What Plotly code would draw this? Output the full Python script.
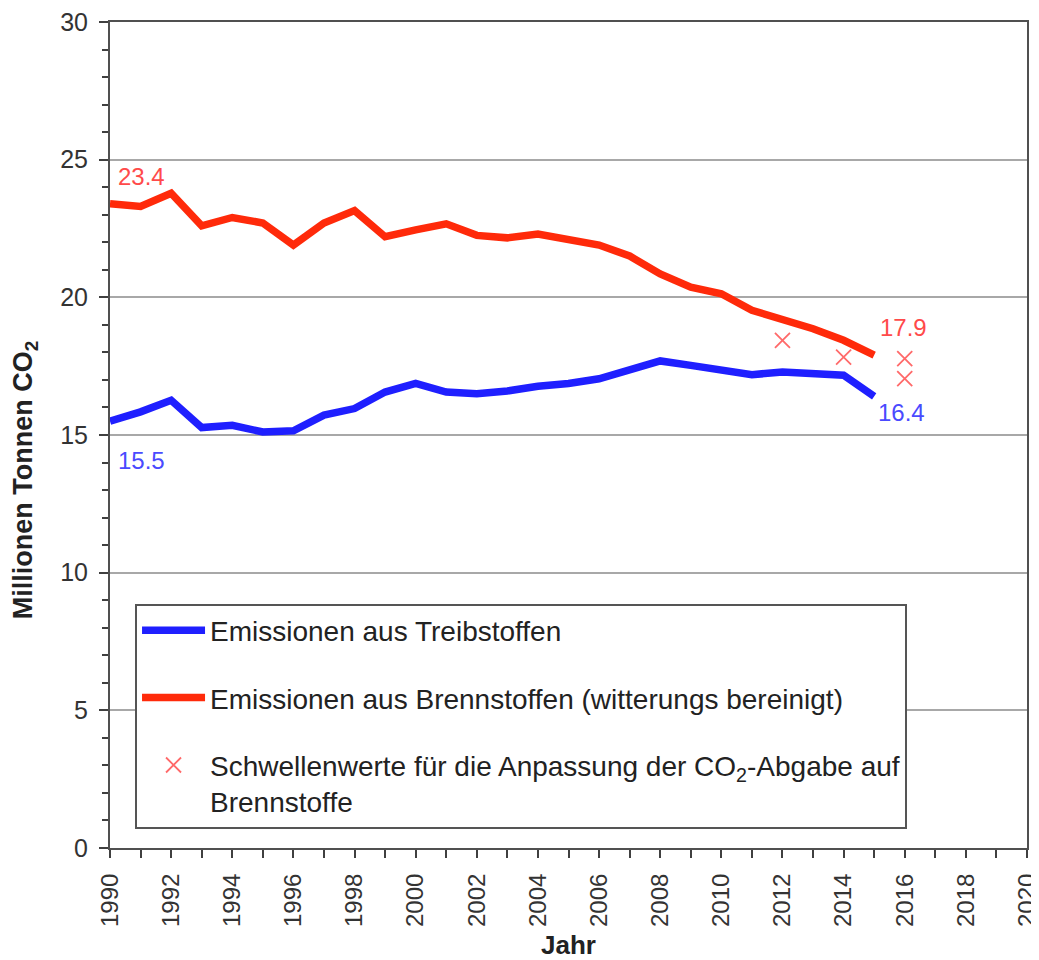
import plotly.graph_objects as go

years = list(range(1990, 2016))
treibstoffe = [15.5, 15.84, 16.26, 15.27, 15.35, 15.11, 15.15, 15.72, 15.96, 16.56,
               16.87, 16.56, 16.5, 16.6, 16.77, 16.87, 17.04, 17.37, 17.69, 17.53,
               17.37, 17.19, 17.29, 17.23, 17.17, 16.4]
brennstoffe = [23.4, 23.3, 23.78, 22.6, 22.9, 22.7, 21.9, 22.7, 23.15, 22.2,
               22.45, 22.67, 22.25, 22.16, 22.3, 22.07, 21.9, 21.5, 20.85, 20.37,
               20.13, 19.53, 19.22, 18.86, 18.44, 17.9]
schwelle_years = [2012, 2014, 2016, 2016]
schwelle_values = [18.44, 17.83, 17.77, 17.05]

FONT = "Liberation Sans, Arial, sans-serif"
BLUE = "#1f1fff"
RED = "#ff2a0a"

fig = go.Figure()
fig.add_trace(go.Scatter(
    x=years, y=treibstoffe, mode="lines", name="Emissionen aus Treibstoffen",
    line=dict(color=BLUE, width=7.5), legendgroup="a",
))
fig.add_trace(go.Scatter(
    x=years, y=brennstoffe, mode="lines",
    name="Emissionen aus Brennstoffen (witterungs bereinigt)",
    line=dict(color=RED, width=7.5), legendgroup="b",
))
fig.add_trace(go.Scatter(
    x=schwelle_years, y=schwelle_values, mode="markers",
    name="Schwellenwerte für die Anpassung der CO<sub>2</sub>-Abgabe auf<br>Brennstoffe",
    marker=dict(symbol="x-thin", size=15, line=dict(color="#ff6a6a", width=1.8)),
    legendgroup="c",
))

# end-point value labels, anchored at the data points
label_specs = [
    (years[0], brennstoffe[0], "#ff4a4a", 6, 27),
    (years[-1], brennstoffe[-1], "#ff4a4a", 4, 28),
    (years[0], treibstoffe[0], "#4a4aff", 6, -39),
    (years[-1], treibstoffe[-1], "#4a4aff", 2, -16),
]
for xv, yv, col, xs, ys in label_specs:
    fig.add_annotation(
        x=xv, y=yv, xref="x", yref="y", text=f"{yv:.1f}", showarrow=False,
        xanchor="left", yanchor="middle", xshift=xs, yshift=ys,
        font=dict(family=FONT, size=24, color=col),
    )

# y-axis title
fig.add_annotation(
    x=-0.0925, y=0.4455, xref="paper", yref="paper",
    text="<b>Millionen Tonnen CO<sub>2</sub></b>", showarrow=False, textangle=-90,
    xanchor="center", yanchor="middle",
    font=dict(family=FONT, size=27, color="#222222"),
)

fig.update_layout(
    width=1039, height=960,
    margin=dict(l=102, r=20, t=14, b=120),
    plot_bgcolor="white", paper_bgcolor="white",
    font=dict(family=FONT, color="#333333"),
    showlegend=True,
    legend=dict(
        x=0.0273, y=0.296, xanchor="left", yanchor="top",
        bgcolor="white", bordercolor="#555555", borderwidth=2,
        font=dict(family=FONT, size=28, color="#222222"),
        tracegroupgap=28, itemwidth=63, valign="top",
    ),
    xaxis=dict(
        range=[1990, 2020], dtick=2, tick0=1990, tickangle=-90, automargin=False,
        ticklabeloverflow="allow", ticklabelstandoff=6,
        showgrid=False, zeroline=False,
        showline=True, linecolor="#505050", linewidth=2, mirror=True,
        ticks="outside", ticklen=8, tickcolor="#404040", tickwidth=2,
        minor=dict(dtick=1, ticks="outside", ticklen=8, tickcolor="#404040", tickwidth=2),
        tickfont=dict(family=FONT, size=24, color="#333333"),
        title=dict(text="<b>Jahr</b>", font=dict(family=FONT, size=26, color="#222222"), standoff=10),
    ),
    yaxis=dict(
        range=[0, 30], dtick=5, automargin=False, ticklabelstandoff=6,
        ticklabeloverflow="allow",
        showgrid=True, gridcolor="#a8a8a8", gridwidth=1.5, zeroline=False,
        showline=True, linecolor="#505050", linewidth=2, mirror=True,
        ticks="outside", ticklen=9, tickcolor="#404040", tickwidth=2,
        minor=dict(dtick=1, ticks="outside", ticklen=6, tickcolor="#404040", tickwidth=2, showgrid=False),
        tickfont=dict(family=FONT, size=25, color="#333333"),
    ),
)

fig.write_html("out.html")
